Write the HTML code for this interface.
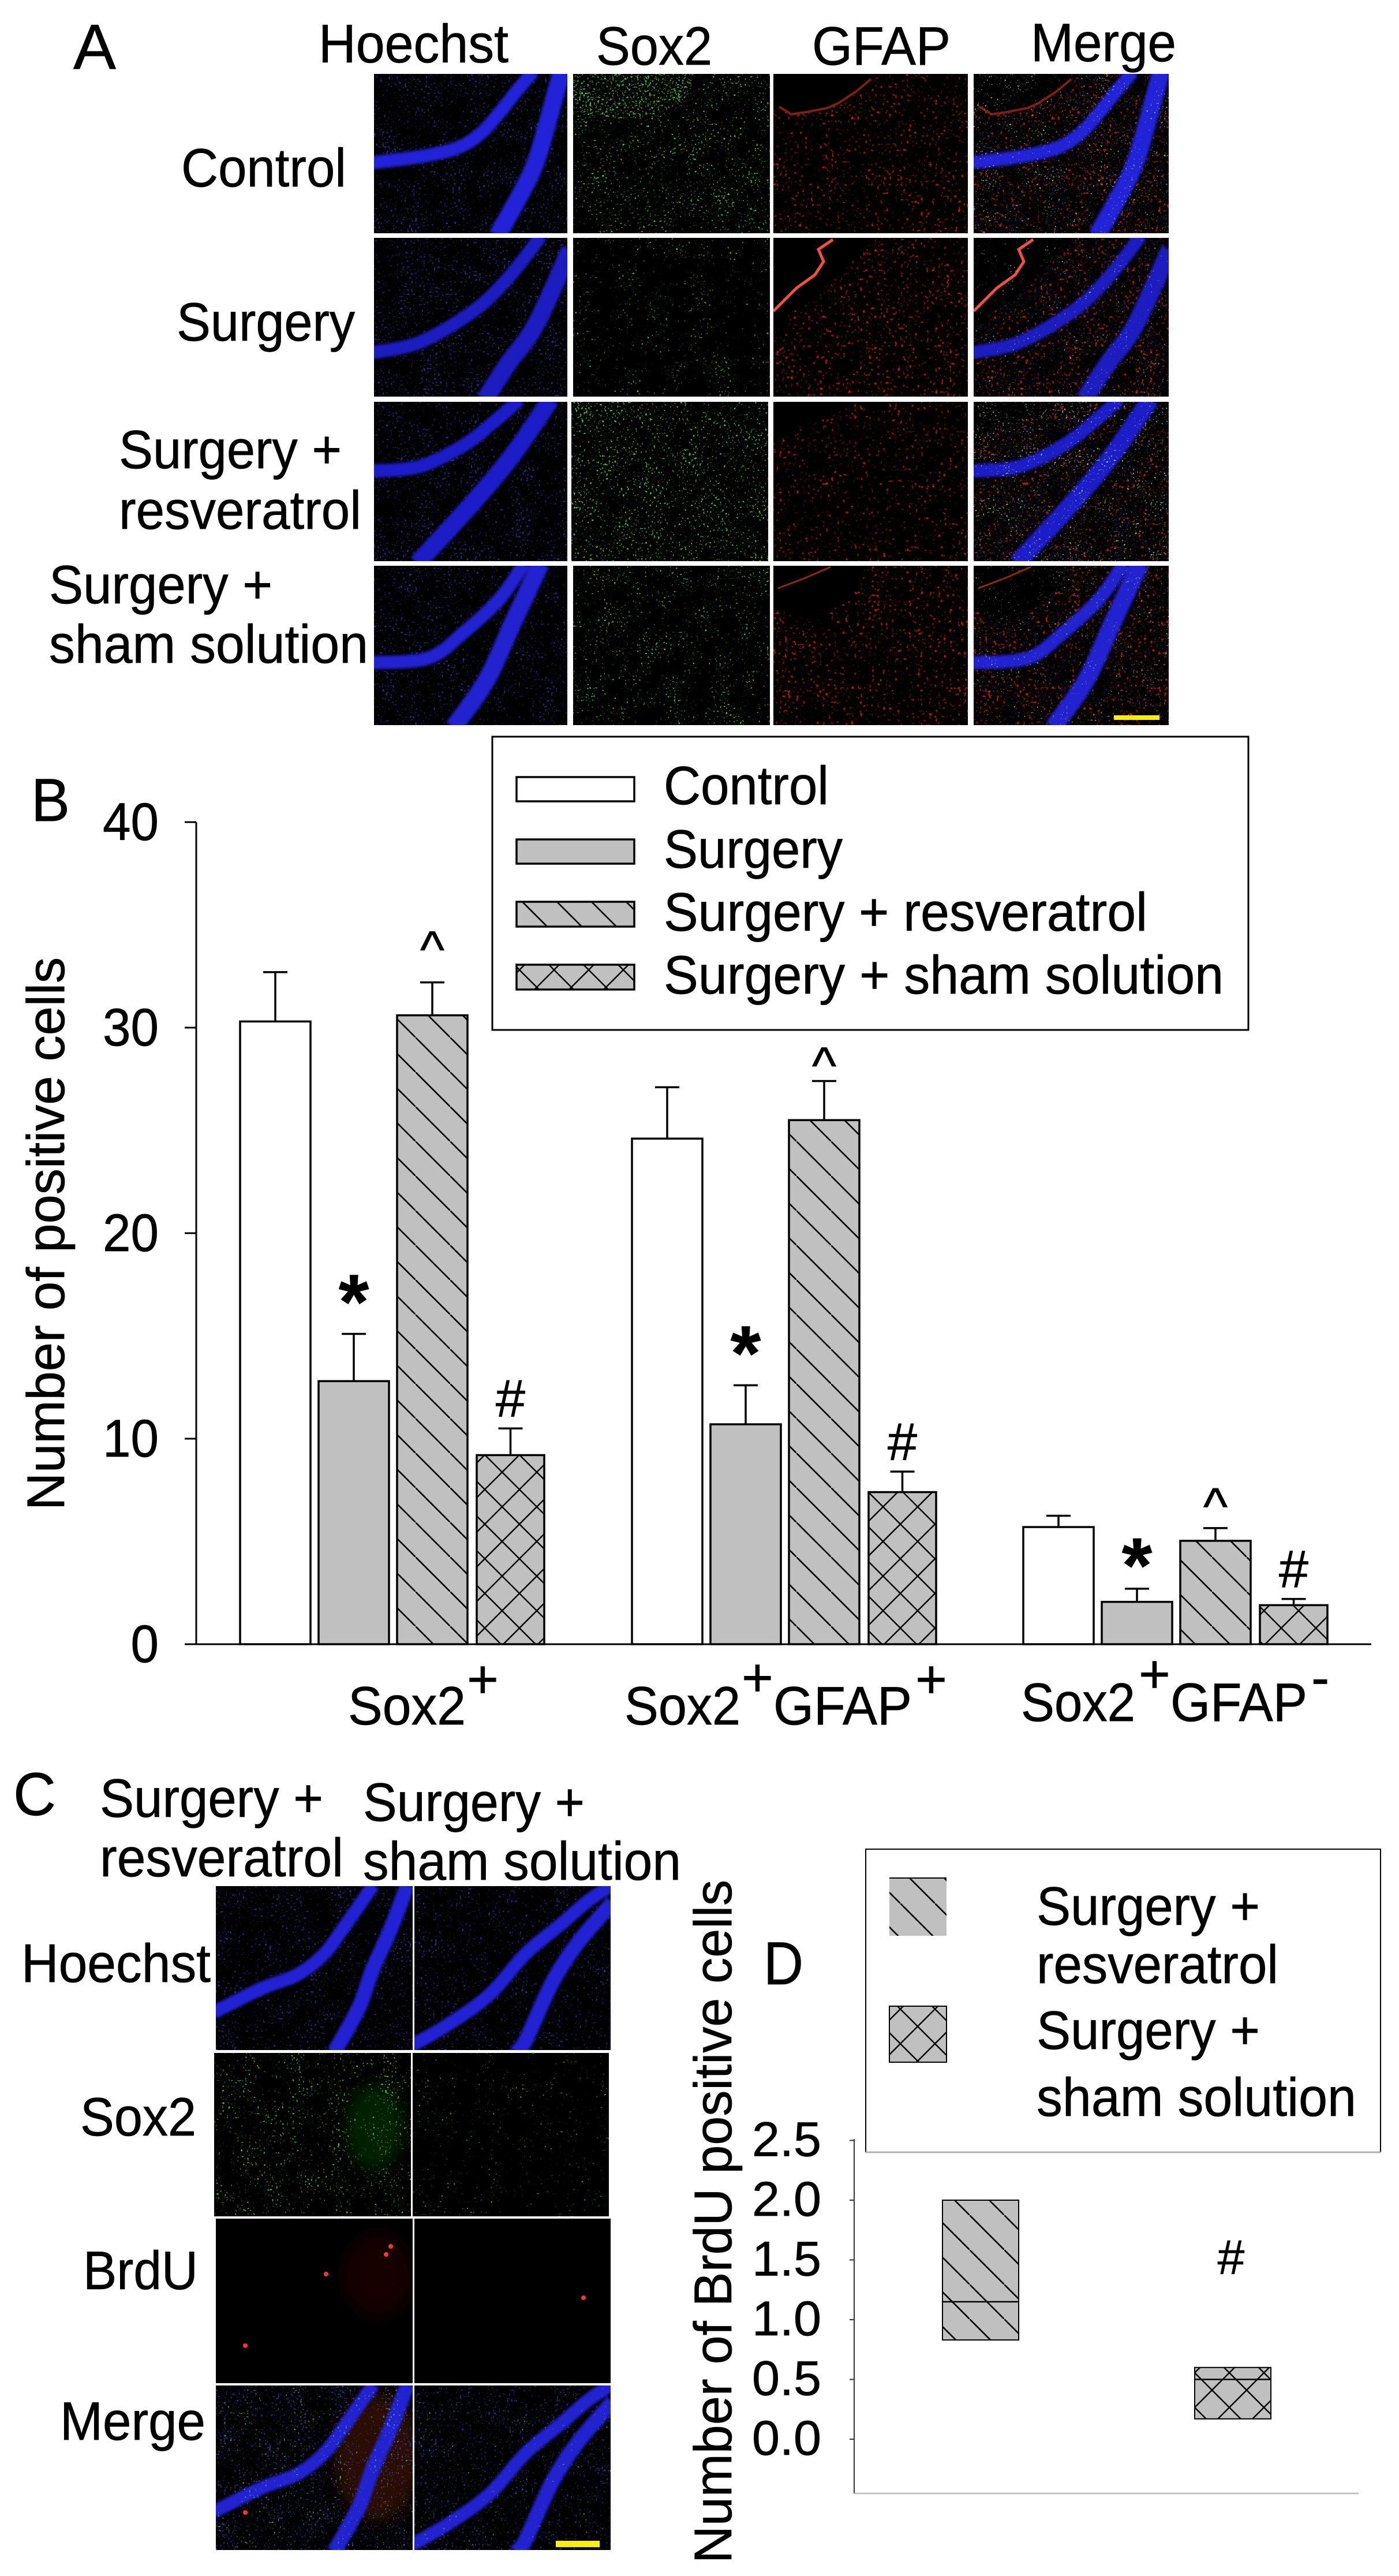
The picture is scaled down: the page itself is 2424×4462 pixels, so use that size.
<!DOCTYPE html>
<html lang="en">
<head>
<meta charset="utf-8">
<title>Sox2 GFAP BrdU figure</title>
<style>
html,body{margin:0;padding:0;background:#fff;}
svg#figure{display:block;}
text{font-family:"Liberation Sans",Arial,sans-serif;fill:#000;stroke:#000;stroke-width:.7;}
</style>
</head>
<body>
<svg id="figure" xmlns="http://www.w3.org/2000/svg" width="2424" height="4462" viewBox="0 0 2424 4462">
<defs>
<pattern id="hatch" patternUnits="userSpaceOnUse" width="60" height="60" patternTransform="translate(0,57)">
<rect width="60" height="60" fill="#c0c0c0"/>
<line x1="-10" y1="-10" x2="70" y2="70" stroke="#000" stroke-width="2.6"/>
</pattern>
<pattern id="cross" patternUnits="userSpaceOnUse" width="60" height="60">
<rect width="60" height="60" fill="#c0c0c0"/>
<line x1="-10" y1="-10" x2="70" y2="70" stroke="#000" stroke-width="2.4"/>
<line x1="-10" y1="70" x2="70" y2="-10" stroke="#000" stroke-width="2.4"/>
</pattern>
<filter id="soft" x="-50%" y="-50%" width="200%" height="200%"><feGaussianBlur stdDeviation="14"/></filter>
<filter id="band-blur" x="-20%" y="-20%" width="140%" height="140%"><feGaussianBlur stdDeviation="2.5"/></filter>
<clipPath id="sox-patch"><ellipse cx="80" cy="15" rx="125" ry="62"/></clipPath>
</defs>
<rect width="2424" height="4462" fill="#fff"/>

<g id="panels"></g>

<g>
<text x="127" y="119" font-size="110" textLength="74" lengthAdjust="spacingAndGlyphs">A</text>
<text x="552" y="108" font-size="94" textLength="329" lengthAdjust="spacingAndGlyphs">Hoechst</text>
<text x="1033" y="112" font-size="94" textLength="201" lengthAdjust="spacingAndGlyphs">Sox2</text>
<text x="1407" y="112" font-size="94" textLength="240" lengthAdjust="spacingAndGlyphs">GFAP</text>
<text x="1786" y="106" font-size="94" textLength="252" lengthAdjust="spacingAndGlyphs">Merge</text>
<text x="314" y="323" font-size="94" textLength="286" lengthAdjust="spacingAndGlyphs">Control</text>
<text x="306" y="590" font-size="94" textLength="309" lengthAdjust="spacingAndGlyphs">Surgery</text>
<text x="206" y="811" font-size="94" textLength="386" lengthAdjust="spacingAndGlyphs">Surgery +</text>
<text x="206" y="916" font-size="94" textLength="420" lengthAdjust="spacingAndGlyphs">resveratrol</text>
<text x="85" y="1045" font-size="94" textLength="387" lengthAdjust="spacingAndGlyphs">Surgery +</text>
<text x="85" y="1148" font-size="94" textLength="553" lengthAdjust="spacingAndGlyphs">sham solution</text>
</g>

<g id="chart-b">
<text x="54" y="1422" font-size="105" textLength="67" lengthAdjust="spacingAndGlyphs">B</text>
<text transform="translate(111,2616) rotate(-90)" font-size="92" textLength="958" lengthAdjust="spacingAndGlyphs">Number of positive cells</text>
<g>
<text x="603" y="2987" font-size="94" textLength="204" lengthAdjust="spacingAndGlyphs">Sox2</text>
<text x="809" y="2941" font-size="94">+</text>
</g>
<g>
<text x="1082" y="2987" font-size="94" textLength="201" lengthAdjust="spacingAndGlyphs">Sox2</text>
<text x="1285" y="2938" font-size="94">+</text>
<text x="1340" y="2987" font-size="94" textLength="240" lengthAdjust="spacingAndGlyphs">GFAP</text>
<text x="1586" y="2941" font-size="94">+</text>
</g>
<g>
<text x="1769" y="2981" font-size="94" textLength="198" lengthAdjust="spacingAndGlyphs">Sox2</text>
<text x="1973" y="2932" font-size="94">+</text>
<text x="2028" y="2981" font-size="94" textLength="237" lengthAdjust="spacingAndGlyphs">GFAP</text>
<text x="2272" y="2938" font-size="94">-</text>
</g>
</g>

<g>
<rect x="853" y="1276" width="1310" height="508" fill="#fff" stroke="#000" stroke-width="3"/>
<rect x="895" y="1346" width="204" height="42" fill="#fff" stroke="#000" stroke-width="3.5"/>
<rect x="895" y="1454" width="204" height="42" fill="#c0c0c0" stroke="#000" stroke-width="3.5"/>
<rect x="895" y="1562" width="204" height="43" fill="url(#hatch)" stroke="#000" stroke-width="3.5"/>
<rect x="895" y="1671" width="204" height="43" fill="url(#cross)" stroke="#000" stroke-width="3.5"/>
<text x="1150" y="1393" font-size="94" textLength="286" lengthAdjust="spacingAndGlyphs">Control</text>
<text x="1150" y="1503" font-size="94" textLength="310" lengthAdjust="spacingAndGlyphs">Surgery</text>
<text x="1150" y="1612" font-size="94" textLength="838" lengthAdjust="spacingAndGlyphs">Surgery + resveratrol</text>
<text x="1150" y="1721" font-size="94" textLength="970" lengthAdjust="spacingAndGlyphs">Surgery + sham solution</text>
</g>

<g>
<text x="23" y="3144" font-size="105" textLength="74" lengthAdjust="spacingAndGlyphs">C</text>
<text x="173" y="3147" font-size="94" textLength="387" lengthAdjust="spacingAndGlyphs">Surgery +</text>
<text x="173" y="3250" font-size="94" textLength="422" lengthAdjust="spacingAndGlyphs">resveratrol</text>
<text x="629" y="3154" font-size="94" textLength="384" lengthAdjust="spacingAndGlyphs">Surgery +</text>
<text x="629" y="3256" font-size="94" textLength="551" lengthAdjust="spacingAndGlyphs">sham solution</text>
<text x="37" y="3433" font-size="94" textLength="328" lengthAdjust="spacingAndGlyphs">Hoechst</text>
<text x="139" y="3699" font-size="94" textLength="201" lengthAdjust="spacingAndGlyphs">Sox2</text>
<text x="144" y="3965" font-size="94" textLength="199" lengthAdjust="spacingAndGlyphs">BrdU</text>
<text x="104" y="4226" font-size="94" textLength="252" lengthAdjust="spacingAndGlyphs">Merge</text>
</g>

<g id="chart-d">
<text x="1323" y="3437" font-size="105" textLength="69" lengthAdjust="spacingAndGlyphs">D</text>
<text transform="translate(1267,4440) rotate(-90)" font-size="92" textLength="1184" lengthAdjust="spacingAndGlyphs">Number of BrdU positive cells</text>
</g>

<g>
<path d="M1500 3728V3203H2392V3728" fill="#fff" stroke="#000" stroke-width="2"/>
<line x1="1500" y1="3728" x2="2392" y2="3728" stroke="#b0b0b0" stroke-width="3"/>
<rect x="1541" y="3253" width="99" height="100" fill="url(#hatch)"/>
<line x1="1541" y1="3253" x2="1640" y2="3253" stroke="#000" stroke-width="2"/>
<rect x="1541" y="3475" width="99" height="97" fill="url(#cross)" stroke="#000" stroke-width="2"/>
<text x="1796" y="3334" font-size="94" textLength="387" lengthAdjust="spacingAndGlyphs">Surgery +</text>
<text x="1796" y="3435" font-size="94" textLength="419" lengthAdjust="spacingAndGlyphs">resveratrol</text>
<text x="1796" y="3549" font-size="94" textLength="387" lengthAdjust="spacingAndGlyphs">Surgery +</text>
<text x="1796" y="3665" font-size="94" textLength="554" lengthAdjust="spacingAndGlyphs">sham solution</text>
</g>
</svg>

<script>
/* ---------- chart B data ---------- */
const categories = ['sox2-plus', 'sox2-plus-gfap-plus', 'sox2-plus-gfap-minus'];
const seriesNames = ['control', 'surgery', 'resveratrol', 'sham'];
const controlValues = [30.3, 24.6, 5.7];
const surgeryValues = [12.8, 10.7, 2.06];
const resveratrolValues = [30.6, 25.5, 5.03];
const shamValues = [9.2, 7.4, 1.9];
const controlErrors = [2.4, 2.5, 0.55];
const surgeryErrors = [2.3, 1.9, 0.64];
const resveratrolErrors = [1.6, 1.9, 0.62];
const shamErrors = [1.3, 1.0, 0.3];
const yTicksB = [0, 10, 20, 30, 40];
const yTickLabelsB = ['0', '10', '20', '30', '40'];
const significanceMarks = ['*', '^', '#'];

/* ---------- chart D data ---------- */
const boxNames = ['resveratrol', 'sham'];
const boxHigh = [2.0, 0.6];
const boxLow = [0.83, 0.17];
const boxMedian = [1.15, 0.5];
const yTicksD = [0, 0.5, 1, 1.5, 2, 2.5];
const yTickLabelsD = ['0.0', '0.5', '1.0', '1.5', '2.0', '2.5'];

const NS = 'http://www.w3.org/2000/svg';
function mk(tag, attrs, parent) {
  const el = document.createElementNS(NS, tag);
  for (const k in attrs) el.setAttribute(k, attrs[k]);
  if (parent) parent.appendChild(el);
  return el;
}

/* ---------- chart B drawing ---------- */
const chartB = document.getElementById('chart-b');
const yB = v => 2848 - v * 35.6;
const groupLeft = i => [416, 1095, 1773][i];
const barLeft = (c, s) => groupLeft(c) + [0, 136, 272, 410][s];
const barWidth = s => (s === 3 ? 117 : 122);
const barFill = ['#fff', '#c0c0c0', 'url(#hatch)', 'url(#cross)'];
const allValues = [controlValues, surgeryValues, resveratrolValues, shamValues];
const allErrors = [controlErrors, surgeryErrors, resveratrolErrors, shamErrors];

allValues.forEach((vals, s) => {
  vals.forEach((v, c) => {
    const x = barLeft(c, s), w = barWidth(s), cx = x + w / 2;
    const top = yB(v + allErrors[s][c]);
    const err = mk('path', {d: 'M' + cx + ' ' + yB(v) + 'V' + top + 'M' + (cx - 21) + ' ' + top + 'H' + (cx + 21), stroke: '#000', 'stroke-width': 3.5, fill: 'none'}, chartB);
    
    
    const bar = mk('rect', {x: x, y: yB(v), width: w, height: yB(0) - yB(v), fill: barFill[s], stroke: '#000', 'stroke-width': 3.5}, chartB);
    
    
  });
});

const yAxisB = mk('line', {x1: 340, y1: yB(40), x2: 340, y2: yB(0), stroke: '#000', 'stroke-width': 3}, chartB);


const xAxisB = mk('line', {x1: 320, y1: yB(0), x2: 2376, y2: yB(0), stroke: '#000', 'stroke-width': 3}, chartB);



yTicksB.forEach((t, i) => {
  const tick = mk('line', {x1: 320, y1: yB(t), x2: 340, y2: yB(t), stroke: '#000', 'stroke-width': 3}, chartB);
  
  
  const len = yTickLabelsB[i].length * 48.5;
  const label = mk('text', {x: 275 - len, y: yB(t) + 31, 'font-size': 92, textLength: len, lengthAdjust: 'spacingAndGlyphs'}, chartB);
  label.textContent = yTickLabelsB[i];
  
  
});

function addMark(sym, c, s, gap, size, bold) {
  const v = allValues[s][c] + allErrors[s][c];
  const x = barLeft(c, s) + barWidth(s) / 2;
  const m = mk('text', {x: x, y: yB(v) - gap, 'font-size': size, 'text-anchor': 'middle', 'font-weight': bold ? 'bold' : 'normal'}, chartB);
  m.textContent = sym;
  
  
}
categories.forEach((name, c) => {
  addMark(significanceMarks[0], c, 1, [9, 9, -6][c], 135, true);
  addMark(significanceMarks[1], c, 2, [26, -4, 7][c], 90, false);
  addMark(significanceMarks[2], c, 3, 20, 92, false);
});

/* ---------- chart D drawing ---------- */
const chartD = document.getElementById('chart-d');
const yD = v => 4225 - v * 207;
const boxX = i => [1633, 2070][i];
const BOX_W = 132;
boxNames.forEach((name, i) => {
  const box = mk('rect', {x: boxX(i), y: yD(boxHigh[i]), width: BOX_W, height: yD(boxLow[i]) - yD(boxHigh[i]), fill: i ? 'url(#cross)' : 'url(#hatch)', stroke: '#000', 'stroke-width': 2}, chartD);
  
  
  const med = mk('line', {x1: boxX(i), x2: boxX(i) + BOX_W, y1: yD(boxMedian[i]), y2: yD(boxMedian[i]), stroke: '#000', 'stroke-width': 2.5}, chartD);
  
  
});
const yAxisD = mk('line', {x1: 1480, y1: 3705, x2: 1480, y2: 4319, stroke: '#333', 'stroke-width': 2}, chartD);


const xAxisD = mk('line', {x1: 1480, y1: 4319, x2: 2354, y2: 4319, stroke: '#bbb', 'stroke-width': 2.5}, chartD);


yTicksD.forEach((t, i) => {
  const tick = mk('line', {x1: 1472, y1: yD(t), x2: 1480, y2: yD(t), stroke: '#333', 'stroke-width': 2}, chartD);
  
  
  const label = mk('text', {x: 1303, y: yD(t) + 27, 'font-size': 84, textLength: 120, lengthAdjust: 'spacingAndGlyphs'}, chartD);
  label.textContent = yTickLabelsD[i];
  
  
});
const hashD = mk('text', {x: 2133, y: 3939, 'font-size': 84, 'text-anchor': 'middle'}, chartD);
hashD.textContent = '#';



/* ---------- micrographs (illustrative texture, not chart data) ---------- */
const defs = document.querySelector('defs');
const panelsRoot = document.getElementById('panels');
let filterCount = 0;
function speckle(seed, freq, t, k, rgb) {
  const id = 'sp' + (++filterCount);
  const f = mk('filter', {id: id, x: 0, y: 0, width: 1, height: 1, 'color-interpolation-filters': 'sRGB'}, defs);
  const opaque = '1 0 0 0 0 0 0 0 0 0 0 0 0 0 0 0 0 0 0 1';
  mk('feTurbulence', {type: 'fractalNoise', baseFrequency: freq, numOctaves: 2, seed: seed, result: 'hi0'}, f);
  mk('feColorMatrix', {in: 'hi0', type: 'matrix', values: opaque, result: 'hi'}, f);
  mk('feTurbulence', {type: 'fractalNoise', baseFrequency: 0.025, numOctaves: 2, seed: seed + 100, result: 'lo0'}, f);
  mk('feColorMatrix', {in: 'lo0', type: 'matrix', values: opaque, result: 'lo'}, f);
  mk('feComposite', {in: 'hi', in2: 'lo', operator: 'arithmetic', k1: 0, k2: 1, k3: 0.22, k4: -0.11, result: 'sum'}, f);
  mk('feColorMatrix', {in: 'sum', type: 'matrix', values: '0 0 0 0 ' + rgb[0] + ' 0 0 0 0 ' + rgb[1] + ' 0 0 0 0 ' + rgb[2] + ' ' + k + ' 0 0 0 ' + (-k * t)}, f);
  return id;
}
function smooth(p) {
  let d = 'M' + p[0][0] + ' ' + p[0][1];
  for (let i = 0; i < p.length - 1; i++) {
    const a = p[Math.max(i - 1, 0)], b = p[i], c = p[i + 1], e = p[Math.min(i + 2, p.length - 1)];
    d += 'C' + (b[0] + (c[0] - a[0]) / 6) + ' ' + (b[1] + (c[1] - a[1]) / 6) + ' ' + (c[0] - (e[0] - b[0]) / 6) + ' ' + (c[1] - (e[1] - b[1]) / 6) + ' ' + c[0] + ' ' + c[1];
  }
  return d;
}
function panel(name, x, y, w, h) {
  const s = mk('svg', {x: x, y: y, width: w, height: h, viewBox: '0 0 ' + w + ' ' + h}, panelsRoot);
  
  
  mk('rect', {width: w, height: h, fill: '#000'}, s);
  return s;
}
function layer(s, id, w, h, op) {
  return mk('rect', {width: w, height: h, filter: 'url(#' + id + ')', opacity: op === undefined ? 1 : op}, s);
}
function bands(s, b, color, w1, w2) {
  const g = mk('g', {fill: 'none', 'stroke-linecap': 'butt', filter: 'url(#band-blur)', stroke: color}, s);
  mk('path', {d: smooth(b[0]), 'stroke-width': w1}, g);
  mk('path', {d: smooth(b[1]), 'stroke-width': w2}, g);
}

const colsA = [[648, 335], [993, 341], [1340, 337], [1687, 338]];
const rowsA = [[128, 276], [412, 275], [696, 276], [980, 276]];
const bandsA = [
  [[[-4,154],[82,143],[145,128],[185,103],[216,69],[247,30],[276,-4]], [[325,-4],[305,69],[283,145],[261,195],[214,280]]],
  [[[-4,199],[79,181],[172,127],[233,69],[290,-4]], [[340,20],[280,151],[233,217],[192,280]]],
  [[[-4,120],[79,112],[156,75],[210,33],[252,-4]], [[306,-4],[241,91],[172,174],[75,280]]],
  [[[-4,168],[94,160],[156,115],[218,57],[260,-4]], [[289,-4],[241,98],[195,198],[138,280]]]
];
const masksA = [
  '0,0 169,0 169,9 144,30 112,51 94,59 58,66 31,70 10,57 0,57',
  '0,0 180,0 144,34 112,64 85,91 35,125 0,164',
  '0,0 150,0 100,25 40,45 0,65',
  '0,0 148,0 148,35 130,61 90,80 50,91 0,75'
];
const edgesA = [
  {d: 'M10 57L31 70L58 66L94 59L112 51L144 30L169 9', c: '#80200f', w: 4},
  {d: 'M103 3L78 20L87 41L72 64L40 87L0 127', c: '#f05040', w: 5},
  null,
  {d: 'M8 39L58 20L99 2', c: '#902818', w: 3}
];
const bandColorA = ['#2222d8', '#1c1cc0', '#1e1ec8', '#2020d0'];
const soxT = [0.685, 0.725, 0.67, 0.715];
const gfapT = [0.645, 0.625, 0.655, 0.635];
const rowNamesA = ['control', 'surgery', 'resveratrol', 'sham'];

rowsA.forEach((r, ri) => {
  const [y, h] = r;
  const rowOff = ri === 2 ? -3 : 0;
  const names = ['hoechst', 'sox2', 'gfap', 'merge'];
  const sp = {
    blue: speckle(10 + ri, 0.28, 0.655, 8, [0.2, 0.2, 0.62]),
    green: speckle(20 + ri, 0.28, soxT[ri], 12, [0.3, 0.8, 0.3]),
    red: speckle(30 + ri, 0.2, gfapT[ri], 7, [0.72, 0.1, 0.06])
  };
  colsA.forEach((c, ci) => {
    const w = c[1], x = c[0] + (ci === 1 ? rowOff : 0);
    const s = panel('micrograph-' + rowNamesA[ri] + '-' + names[ci], x, y, w, h);
    if (ci === 0) {
      layer(s, sp.blue, w, h);
      bands(s, bandsA[ri], bandColorA[ri], 23, 31);
    } else if (ci === 1) {
      layer(s, sp.green, w, h);
      if (ri === 0) {
        const id2 = speckle(41, 0.28, 0.62, 12, [0.25, 0.7, 0.25]);
        const patch = mk('g', {'clip-path': 'url(#sox-patch)'}, s);
        layer(patch, id2, w, h);
      }
    } else if (ci === 2) {
      layer(s, sp.red, w, h);
      mk('polygon', {points: masksA[ri], fill: '#000'}, s);
      if (edgesA[ri]) mk('path', {d: edgesA[ri].d, fill: 'none', stroke: edgesA[ri].c, 'stroke-width': edgesA[ri].w}, s);
    } else {
      layer(s, sp.blue, w, h, 0.45);
      layer(s, sp.red, w, h);
      mk('polygon', {points: masksA[ri], fill: '#000'}, s);
      if (edgesA[ri]) mk('path', {d: edgesA[ri].d, fill: 'none', stroke: edgesA[ri].c, 'stroke-width': edgesA[ri].w}, s);
      bands(s, bandsA[ri], bandColorA[ri], 23, 31);
      layer(s, speckle(50 + ri, 0.3, soxT[ri] + 0.02, 12, [0.8, 1, 0.8]), w, h, 0.7);
    }
  });
});
const scaleA = mk('rect', {x: 1930, y: 1239, width: 79, height: 8, fill: '#f8f000'}, panelsRoot);



const colsC = [[374, 341], [718, 340]];
const rowsC = [[3267, 284, 0], [3556, 283, -3], [3843, 285, 0], [4132, 285, 0]];
const bandsC = [
  [[[-4,219],[78,178],[142,153],[188,117],[225,67],[273,-2]], [[332,-2],[303,74],[271,146],[248,210],[205,288]]],
  [[[-4,276],[55,242],[129,189],[193,117],[253,67],[303,24],[344,-2]], [[344,28],[285,96],[239,167],[193,267],[176,288]]]
];
const brduDots = [[[303,48],[295,62],[191,96],[51,220]], [[293,137]]];
const rowNamesC = ['hoechst', 'sox2', 'brdu', 'merge'];
const colNamesC = ['resveratrol', 'sham'];
rowsC.forEach((r, ri) => {
  colsC.forEach((c, ci) => {
    const [y, h, off] = r;
    const w = c[1], x = c[0] + off;
    const s = panel('micrograph-c-' + colNamesC[ci] + '-' + rowNamesC[ri], x, y, w, h);
    const blue = speckle(60 + ci, 0.28, 0.665, 8, [0.2, 0.2, 0.62]);
    if (ri === 0) {
      layer(s, blue, w, h);
      bands(s, bandsC[ci], '#2020d4', 23, 26);
    } else if (ri === 1) {
      if (ci === 0) mk('ellipse', {cx: 278, cy: 128, rx: 50, ry: 75, fill: '#062406', filter: 'url(#soft)'}, s);
      layer(s, speckle(70 + ci, 0.28, ci ? 0.75 : 0.7, 12, [0.3, 0.8, 0.3]), w, h);
    } else if (ri === 2) {
      if (ci === 0) mk('ellipse', {cx: 280, cy: 98, rx: 60, ry: 75, fill: '#180402', filter: 'url(#soft)'}, s);
      brduDots[ci].forEach(d => mk('circle', {cx: d[0], cy: d[1], r: 4, fill: '#ff3434'}, s));
    } else {
      if (ci === 0) mk('ellipse', {cx: 280, cy: 124, rx: 75, ry: 110, fill: '#2a0804', filter: 'url(#soft)'}, s);
      layer(s, blue, w, h);
      bands(s, bandsC[ci], '#2020d0', 23, 26);
      layer(s, speckle(70 + ci, 0.28, ci ? 0.75 : 0.715, 12, [0.4, 0.85, 0.75]), w, h, 0.7);
      if (ci === 0) mk('circle', {cx: 51, cy: 220, r: 4, fill: '#ff3434'}, s);
    }
  });
});
const scaleC = mk('rect', {x: 963, y: 4401, width: 76, height: 11, fill: '#f8f000'}, panelsRoot);


</script>
</body>
</html>
